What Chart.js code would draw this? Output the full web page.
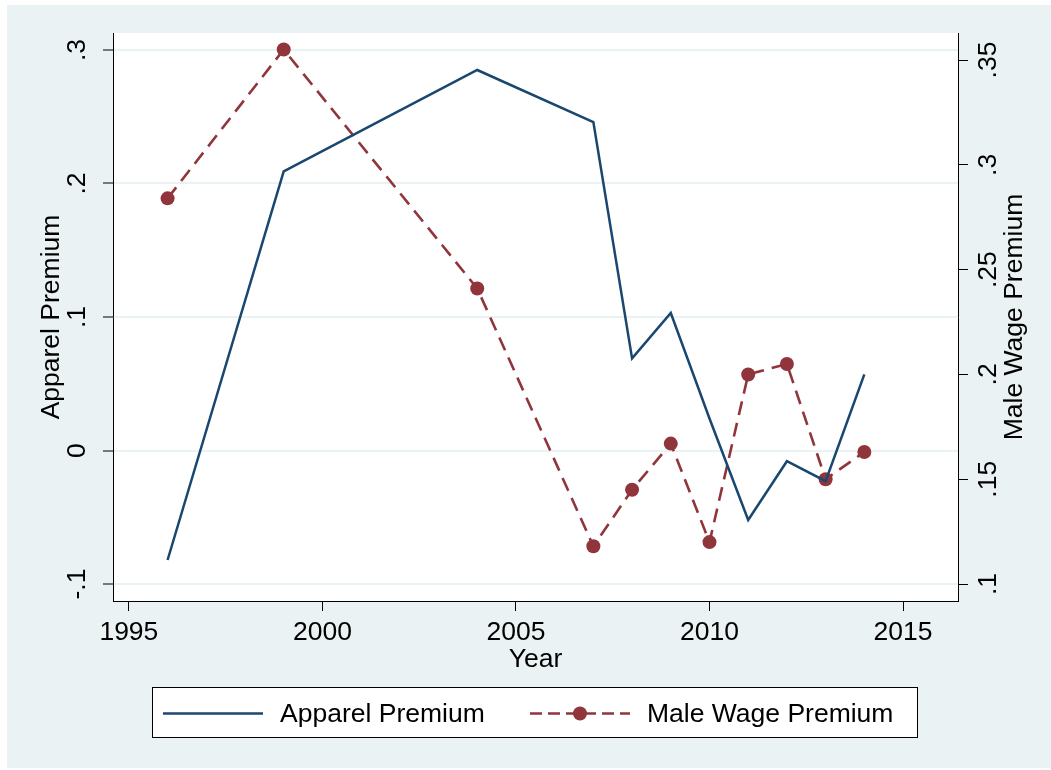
<!DOCTYPE html>
<html>
<head>
<meta charset="utf-8">
<script src="https://cdn.jsdelivr.net/npm/chart.js@4"></script>
<style>
body { margin: 0; background: #fff; }
</style>
</head>
<body>
<canvas id="chart" width="1051" height="770"></canvas>
<script>
// values
var years = [1996, 1999, 2004, 2007, 2008, 2009, 2010, 2011, 2012, 2013, 2014];
var apparelPremium = [-0.082, 0.209, 0.285, 0.246, 0.069, 0.103, 0.024, -0.052, -0.008, -0.023, 0.057];
var maleWagePremium = [0.284, 0.355, 0.241, 0.118, 0.145, 0.167, 0.120, 0.200, 0.205, 0.150, 0.163];

var yearTicks = [1995, 2000, 2005, 2010, 2015];
var leftTicks = [-0.1, 0, 0.1, 0.2, 0.3];
var leftTickLabels = ['-.1', '0', '.1', '.2', '.3'];
var rightTicks = [0.1, 0.15, 0.2, 0.25, 0.3, 0.35];
var rightTickLabels = ['.1', '.15', '.2', '.25', '.3', '.35'];

var navy = '#1a476f';
var maroon = '#90353b';
var bluishGray = '#eaf2f3';
var fontFamily = "'Liberation Sans', Arial, sans-serif";
var fontSize = 26.5;

function pairs(xs, ys) {
    return xs.map(function (x, i) { return { x: x, y: ys[i] }; });
}

function labelFor(values, labels) {
    return function (value) {
        for (var i = 0; i < values.length; i++) {
            if (Math.abs(values[i] - value) < 1e-9) return labels[i];
        }
        return '';
    };
}

function fixTicks(values) {
    return function (scale) {
        scale.ticks = values.map(function (v) { return { value: v }; });
    };
}

// stata-like background: bluish gray graph region, white plot region
var framePlugin = {
    id: 'frame',
    beforeDraw: function (chart) {
        var ctx = chart.ctx;
        var a = chart.chartArea;
        ctx.save();
        ctx.fillStyle = '#fff';
        ctx.fillRect(0, 0, chart.width, chart.height);
        ctx.fillStyle = bluishGray;
        ctx.fillRect(7, 5, chart.width - 7, chart.height - 7);
        ctx.fillStyle = '#fff';
        ctx.fillRect(a.left, a.top, a.right - a.left, a.bottom - a.top);
        ctx.restore();
    }
};

// right axis title reads bottom to top, and the boxed legend
var extrasPlugin = {
    id: 'extras',
    afterDraw: function (chart) {
        var ctx = chart.ctx;
        var a = chart.chartArea;
        ctx.save();
        ctx.font = fontSize + 'px ' + fontFamily;
        ctx.fillStyle = '#000';
        ctx.textAlign = 'center';
        ctx.textBaseline = 'middle';
        ctx.translate(1015, (a.top + a.bottom) / 2);
        ctx.rotate(-Math.PI / 2);
        ctx.fillText('Male Wage Premium', 0, 0);
        ctx.restore();

        ctx.save();
        ctx.fillStyle = '#fff';
        ctx.fillRect(152.5, 687.5, 765, 50);
        ctx.strokeStyle = '#000';
        ctx.lineWidth = 1;
        ctx.strokeRect(152.5, 687.5, 765, 50);

        var ly = 713.5;
        var ds = chart.data.datasets;
        ctx.font = fontSize + 'px ' + fontFamily;
        ctx.textAlign = 'left';
        ctx.textBaseline = 'middle';

        ctx.strokeStyle = ds[0].borderColor;
        ctx.lineWidth = ds[0].borderWidth;
        ctx.beginPath();
        ctx.moveTo(163, ly);
        ctx.lineTo(263, ly);
        ctx.stroke();
        ctx.fillStyle = '#000';
        ctx.fillText(ds[0].label, 280, ly + 1);

        ctx.strokeStyle = ds[1].borderColor;
        ctx.lineWidth = ds[1].borderWidth;
        ctx.setLineDash([12, 6]);
        ctx.beginPath();
        ctx.moveTo(530, ly);
        ctx.lineTo(630, ly);
        ctx.stroke();
        ctx.setLineDash([]);
        ctx.fillStyle = ds[1].pointBackgroundColor;
        ctx.beginPath();
        ctx.arc(580, ly, ds[1].pointRadius, 0, Math.PI * 2);
        ctx.fill();
        ctx.fillStyle = '#000';
        ctx.fillText(ds[1].label, 647, ly + 1);
        ctx.restore();
    }
};

var tickFont = { family: fontFamily, size: fontSize };

var ctx = document.getElementById('chart').getContext('2d');
var chart = new Chart(ctx, {
    type: 'line',
    data: {
        datasets: [{
            label: 'Apparel Premium',
            data: pairs(years, apparelPremium),
            yAxisID: 'y',
            borderColor: navy,
            backgroundColor: navy,
            borderWidth: 2.5,
            pointRadius: 0,
            tension: 0,
            fill: false
        }, {
            label: 'Male Wage Premium',
            data: pairs(years, maleWagePremium),
            yAxisID: 'y1',
            borderColor: maroon,
            backgroundColor: maroon,
            borderWidth: 2.6,
            borderDash: [14, 8],
            pointRadius: 7,
            pointBackgroundColor: maroon,
            pointBorderColor: maroon,
            pointBorderWidth: 0,
            tension: 0,
            fill: false
        }]
    },
    options: {
        responsive: false,
        animation: false,
        devicePixelRatio: 1,
        layout: { padding: { top: 33, left: 0, right: 0, bottom: 0 } },
        plugins: {
            legend: { display: false },
            tooltip: { enabled: false }
        },
        scales: {
            x: {
                type: 'linear',
                min: 1994.59,
                max: 2016.42,
                afterBuildTicks: fixTicks(yearTicks),
                afterFit: function (scale) { scale.height = 169; },
                grid: {
                    drawOnChartArea: false,
                    drawTicks: true,
                    tickLength: 10,
                    tickColor: '#000',
                    tickWidth: 1
                },
                border: { display: true, color: '#000', width: 1 },
                ticks: {
                    font: tickFont,
                    color: '#000',
                    padding: 6,
                    maxRotation: 0,
                    autoSkip: false,
                    callback: function (v) { return String(v); }
                },
                title: {
                    display: true,
                    text: 'Year',
                    font: tickFont,
                    color: '#000',
                    padding: { top: 0, bottom: 94 }
                }
            },
            y: {
                type: 'linear',
                position: 'left',
                min: -0.1127,
                max: 0.3127,
                afterBuildTicks: fixTicks(leftTicks),
                afterFit: function (scale) { scale.width = 113; },
                grid: {
                    drawOnChartArea: true,
                    color: bluishGray,
                    lineWidth: 2,
                    drawTicks: true,
                    tickLength: 10,
                    tickColor: '#000',
                    tickWidth: 1
                },
                border: { display: true, color: '#000', width: 1 },
                ticks: {
                    font: tickFont,
                    color: '#000',
                    minRotation: 90,
                    maxRotation: 90,
                    crossAlign: 'center',
                    padding: 10,
                    autoSkip: false,
                    callback: labelFor(leftTicks, leftTickLabels)
                },
                title: {
                    display: true,
                    text: 'Apparel Premium',
                    font: tickFont,
                    color: '#000',
                    padding: { top: 36, bottom: 0 }
                }
            },
            y1: {
                type: 'linear',
                position: 'right',
                min: 0.0919,
                max: 0.3629,
                afterBuildTicks: fixTicks(rightTicks),
                afterFit: function (scale) { scale.width = 93; },
                grid: {
                    drawOnChartArea: false,
                    drawTicks: true,
                    tickLength: 10,
                    tickColor: '#000',
                    tickWidth: 1
                },
                border: { display: true, color: '#000', width: 1 },
                ticks: {
                    font: tickFont,
                    color: '#000',
                    minRotation: 90,
                    maxRotation: 90,
                    crossAlign: 'center',
                    padding: 2,
                    autoSkip: false,
                    callback: labelFor(rightTicks, rightTickLabels)
                }
            }
        }
    },
    plugins: [framePlugin, extrasPlugin]
});
</script>
</body>
</html>
